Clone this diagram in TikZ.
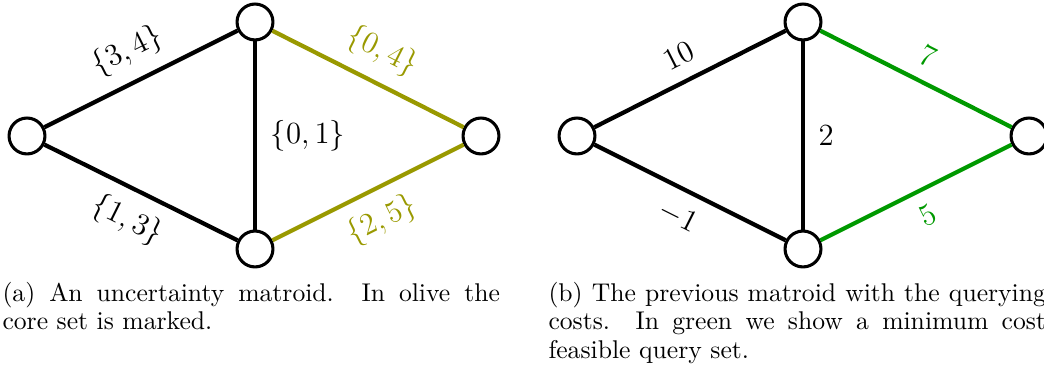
\documentclass[tikz,border=0pt]{standalone}
\definecolor{olivec}{RGB}{153,153,0}
\definecolor{greenc}{RGB}{0,153,0}
\begin{document}
\begin{tikzpicture}[x=0.39pt,y=-0.39pt,
  vtx/.style={circle,draw=black,fill=white,line width=1.2pt,minimum size=14pt,inner sep=0pt},
  edgeln/.style={line width=1.65pt},
  lbl/.style={font=\large,sloped,midway,inner sep=5.3pt},
  vlbl/.style={font=\large,midway,right,inner sep=5.3pt},
  captxt/.style={anchor=base west,inner sep=0pt,font=\fontsize{10}{11}\selectfont}]
\useasboundingbox (0,0) rectangle (1044,374);
% (a)
\node[vtx] (aL) at (27,136) {};
\node[vtx] (aT) at (255,22) {};
\node[vtx] (aB) at (255,249) {};
\node[vtx] (aR) at (481,136) {};
\draw[edgeln] (aL) -- node[lbl,above]{$\{3,4\}$} (aT);
\draw[edgeln] (aL) -- node[lbl,below]{$\{1,3\}$} (aB);
\draw[edgeln] (aT) -- node[vlbl]{$\{0,1\}$} (aB);
\draw[edgeln,olivec] (aT) -- node[lbl,above]{$\{0,4\}$} (aR);
\draw[edgeln,olivec] (aB) -- node[lbl,below]{$\{2,5\}$} (aR);
% (b)
\node[vtx] (bL) at (577,136) {};
\node[vtx] (bT) at (803,22) {};
\node[vtx] (bB) at (803,249) {};
\node[vtx] (bR) at (1029,136) {};
\draw[edgeln] (bL) -- node[lbl,above]{$10$} (bT);
\draw[edgeln] (bL) -- node[lbl,below]{$-1$} (bB);
\draw[edgeln] (bT) -- node[vlbl]{$2$} (bB);
\draw[edgeln,greenc] (bT) -- node[lbl,above]{$7$} (bR);
\draw[edgeln,greenc] (bB) -- node[lbl,below]{$5$} (bR);
% captions
\node[captxt] (ca1) at (2,301.5) {\hbox to 194pt{(a) An uncertainty matroid. In olive the}};
\node[captxt] (ca2) at (2,330) {core set is marked.};
\node[captxt] (cb1) at (548,301.5) {\hbox to 194pt{(b) The previous matroid with the querying}};
\node[captxt] (cb2) at (548,330) {\hbox to 194pt{costs. In green we show a minimum cost}};
\node[captxt] (cb3) at (548,358.5) {feasible query set.};
\end{tikzpicture}
\end{document}
